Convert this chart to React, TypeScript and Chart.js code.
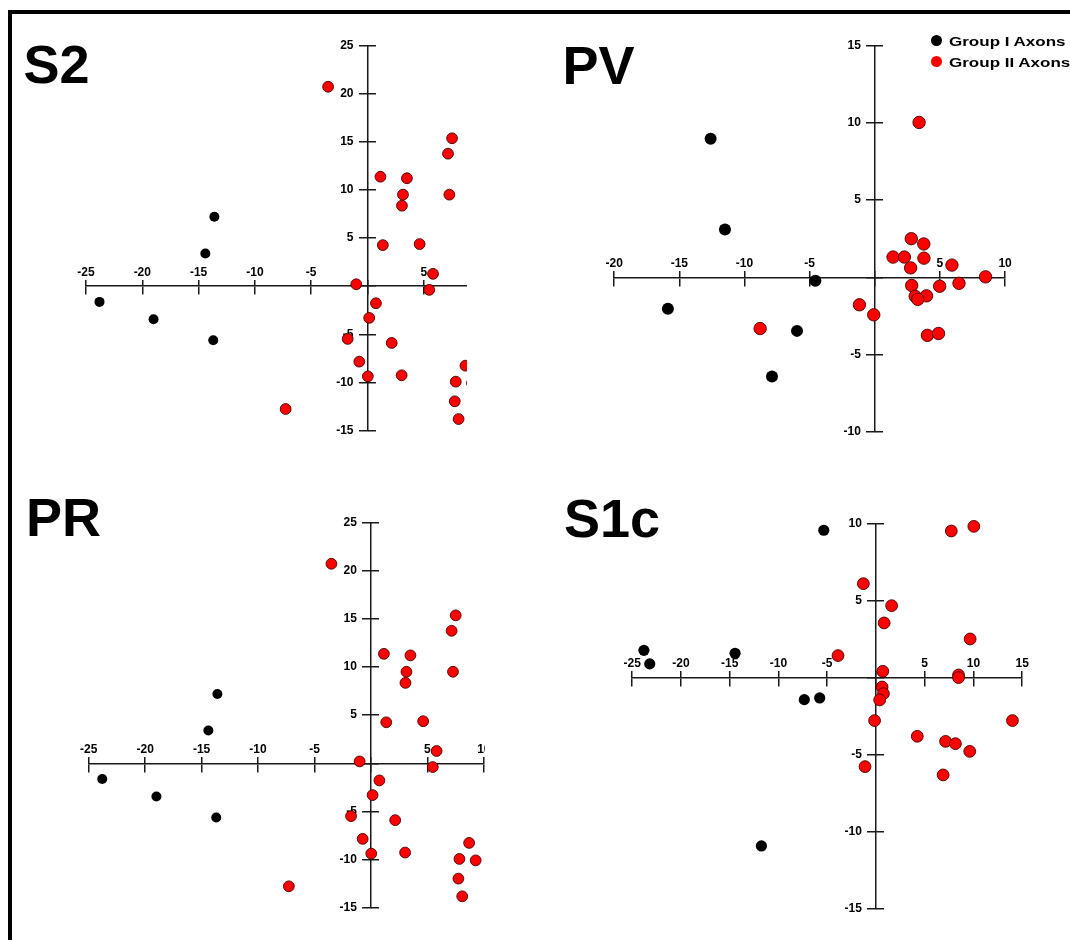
import React, { useEffect, useRef } from "react";
import { Chart, registerables } from "chart.js";

Chart.register(...registerables);

// ---------------- data ----------------
const SERIES_NAMES = ["Group I Axons", "Group II Axons"];

// S2 (the PR panel shows the same scores)
const S2_GROUP1_X = [-23.8, -19.0, -13.7, -14.4, -13.6];
const S2_GROUP1_Y = [-1.63, -3.43, -5.61, 3.4, 7.2];
const S2_GROUP2_X = [-3.5, -7.27, -1.0, 1.15, 3.5, 3.15, 3.06, 1.36, 4.63, 7.15, 7.51, 7.27, 5.82, 5.48, 0.75, 0.15, -1.76, 2.15, -0.73, 0.03, 3.03, 8.7, 7.84, 7.75, 8.09, 9.28];
const S2_GROUP2_Y = [20.7, -12.75, 0.2, 11.36, 11.2, 9.5, 8.35, 4.26, 4.37, 13.75, 15.35, 9.5, 1.28, -0.38, -1.77, -3.29, -5.47, -5.89, -7.83, -9.36, -9.25, -8.25, -9.91, -11.95, -13.79, -10.06];

const PR_GROUP1_X = S2_GROUP1_X;
const PR_GROUP1_Y = S2_GROUP1_Y;
const PR_GROUP2_X = S2_GROUP2_X;
const PR_GROUP2_Y = S2_GROUP2_Y;

// PV
const PV_GROUP1_X = [-12.6, -11.5, -4.56, -15.88, -5.97, -7.89];
const PV_GROUP1_Y = [8.98, 3.09, -0.23, -2.03, -3.47, -6.43];
const PV_GROUP2_X = [3.4, -8.8, -1.18, -0.08, 2.8, 3.76, 1.4, 2.27, 3.77, 2.75, 5.92, 8.5, 2.83, 4.98, 6.46, 3.1, 3.97, 3.3, 4.04, 4.89];
const PV_GROUP2_Y = [10.03, -3.32, -1.78, -2.43, 2.5, 2.16, 1.31, 1.31, 1.24, 0.61, 0.79, 0.03, -0.53, -0.58, -0.39, -1.23, -1.2, -1.43, -3.76, -3.64];

// S1c
const S1C_GROUP1_X = [-23.8, -23.2, -14.45, -5.35, -7.35, -5.77, -11.75];
const S1C_GROUP1_Y = [1.75, 0.87, 1.56, 9.55, -1.45, -1.34, -10.95];
const S1C_GROUP2_X = [7.73, 10.04, -1.29, 1.61, 0.84, 9.66, -3.89, 0.7, 8.47, 8.47, 0.63, 0.77, 0.38, -0.14, 14.0, 4.24, 7.14, 8.15, 9.62, -1.12, 6.89];
const S1C_GROUP2_Y = [9.5, 9.8, 6.08, 4.65, 3.53, 2.49, 1.41, 0.39, 0.15, -0.02, -0.63, -1.06, -1.47, -2.81, -2.81, -3.83, -4.16, -4.31, -4.81, -5.8, -6.34];

// axis ranges
const S2_X_RANGE = [-25, 10];
const S2_Y_RANGE = [-15, 25];
const PR_X_RANGE = [-25, 10];
const PR_Y_RANGE = [-15, 25];
const PV_X_RANGE = [-20, 10];
const PV_Y_RANGE = [-10, 15];
const S1C_X_RANGE = [-25, 15];
const S1C_Y_RANGE = [-15, 10];
const TICK_STEP = 5;

// ---------------- styling ----------------
const AXIS_COLOR = "#1a1a1a";
const SANS = "'Liberation Sans', Arial, Helvetica, sans-serif";
const TICK_FONT = { family: SANS, size: 12, weight: "bold" as const };
const RED = "#ff0000";
const RED_EDGE = "rgba(70,0,0,0.9)";
const Y_LABEL_GAP = 14; // px between y axis and the right edge of its labels

type Box = { left: number; top: number; width: number; height: number };
type Area = { left: number; top: number; right: number; bottom: number };

interface PanelSpec {
  canvas: Box;
  area: Area;
  xr: number[];
  yr: number[];
  g1x: number[];
  g1y: number[];
  g2x: number[];
  g2y: number[];
  r1: number;
  r2: number;
  bg?: string;
}

const toPoints = (xs: number[], ys: number[]) => xs.map((x, i) => ({ x, y: ys[i] }));
const hideZero = (v: number | string) => (Number(v) === 0 ? "" : String(v));

function Panel({ spec }: { spec: PanelSpec }) {
  const ref = useRef<HTMLCanvasElement>(null);
  useEffect(() => {
    const el = ref.current;
    if (!el) return;
    const { canvas, area } = spec;
    const padding = {
      left: area.left - canvas.left,
      top: area.top - canvas.top,
      right: canvas.left + canvas.width - area.right,
      bottom: canvas.top + canvas.height - area.bottom,
    };
    const pxPerX = (area.right - area.left) / (spec.xr[1] - spec.xr[0]);
    const gridBase = {
      drawOnChartArea: false,
      drawTicks: true,
      color: AXIS_COLOR,
      lineWidth: 1.5,
      tickWidth: 1.5,
    };
    const chart = new Chart(el, {
      type: "scatter",
      data: {
        datasets: [
          {
            label: SERIES_NAMES[0],
            data: toPoints(spec.g1x, spec.g1y),
            pointRadius: spec.r1,
            pointBackgroundColor: "#000",
            pointBorderColor: "#000",
            pointBorderWidth: 0,
            clip: false,
          },
          {
            label: SERIES_NAMES[1],
            data: toPoints(spec.g2x, spec.g2y),
            pointRadius: spec.r2,
            pointBackgroundColor: RED,
            pointBorderColor: RED_EDGE,
            pointBorderWidth: 1,
            clip: false,
          },
        ],
      },
      options: {
        responsive: false,
        animation: false,
        events: [],
        layout: { padding },
        plugins: {
          legend: { display: false },
          tooltip: { enabled: false },
          title: { display: false },
        },
        scales: {
          x: {
            type: "linear",
            min: spec.xr[0],
            max: spec.xr[1],
            position: { y: 0 },
            border: { display: true, color: AXIS_COLOR, width: 1.5 },
            grid: { ...gridBase, tickLength: 8 },
            ticks: {
              stepSize: TICK_STEP,
              autoSkip: false,
              maxRotation: 0,
              padding: -29,
              color: "#000",
              font: TICK_FONT,
              callback: hideZero,
            },
          },
          x2: {
            type: "linear",
            axis: "x",
            min: spec.xr[0],
            max: spec.xr[1],
            position: { y: 0 },
            border: { display: false },
            grid: { ...gridBase, tickLength: -6 },
            ticks: { stepSize: TICK_STEP, display: false },
          },
          y: {
            type: "linear",
            min: spec.yr[0],
            max: spec.yr[1],
            position: { x: 0 },
            border: { display: true, color: AXIS_COLOR, width: 1.5 },
            grid: { ...gridBase, tickLength: 8 },
            ticks: { stepSize: TICK_STEP, display: false },
          },
          y2: {
            type: "linear",
            axis: "y",
            min: spec.yr[0],
            max: spec.yr[1],
            position: { x: 0 },
            border: { display: false },
            grid: { ...gridBase, tickLength: -8 },
            ticks: { stepSize: TICK_STEP, display: false },
          },
          ylab: {
            type: "linear",
            axis: "y",
            min: spec.yr[0],
            max: spec.yr[1],
            position: { x: -Y_LABEL_GAP / pxPerX },
            border: { display: false },
            grid: { display: false },
            ticks: {
              stepSize: TICK_STEP,
              autoSkip: false,
              color: "#000",
              font: TICK_FONT,
              callback: hideZero,
            },
          },
        },
      } as any,
    });
    return () => chart.destroy();
  }, [spec]);
  const { canvas } = spec;
  return (
    <canvas
      ref={ref}
      width={canvas.width}
      height={canvas.height}
      style={{
        position: "absolute",
        left: canvas.left,
        top: canvas.top,
        width: canvas.width,
        height: canvas.height,
        background: spec.bg || "transparent",
      }}
    />
  );
}

const S2_SPEC: PanelSpec = {
  canvas: { left: 12, top: 14, width: 500, height: 440 },
  area: { left: 86, top: 45.3, right: 480.1, bottom: 430.7 },
  xr: S2_X_RANGE, yr: S2_Y_RANGE,
  g1x: S2_GROUP1_X, g1y: S2_GROUP1_Y, g2x: S2_GROUP2_X, g2y: S2_GROUP2_Y,
  r1: 5, r2: 5.4,
};
const PR_SPEC: PanelSpec = {
  canvas: { left: 12, top: 460, width: 500, height: 476 },
  area: { left: 88.7, top: 522.3, right: 483.8, bottom: 908 },
  xr: PR_X_RANGE, yr: PR_Y_RANGE,
  g1x: PR_GROUP1_X, g1y: PR_GROUP1_Y, g2x: PR_GROUP2_X, g2y: PR_GROUP2_Y,
  r1: 5, r2: 5.4,
};
const PV_SPEC: PanelSpec = {
  canvas: { left: 467, top: 14, width: 603, height: 440 },
  area: { left: 614.2, top: 45.7, right: 1005.1, bottom: 431.7 },
  xr: PV_X_RANGE, yr: PV_Y_RANGE,
  g1x: PV_GROUP1_X, g1y: PV_GROUP1_Y, g2x: PV_GROUP2_X, g2y: PV_GROUP2_Y,
  r1: 6, r2: 6.2, bg: "#fff",
};
const S1C_SPEC: PanelSpec = {
  canvas: { left: 485, top: 460, width: 585, height: 476 },
  area: { left: 632.2, top: 523.3, right: 1022.2, bottom: 908.3 },
  xr: S1C_X_RANGE, yr: S1C_Y_RANGE,
  g1x: S1C_GROUP1_X, g1y: S1C_GROUP1_Y, g2x: S1C_GROUP2_X, g2y: S1C_GROUP2_Y,
  r1: 5.6, r2: 5.9, bg: "#fff",
};

const titleStyle = (left: number, top: number): React.CSSProperties => ({
  position: "absolute",
  left,
  top,
  fontFamily: SANS,
  fontWeight: "bold",
  fontSize: 54,
  lineHeight: "54px",
  color: "#000",
  whiteSpace: "nowrap",
});

const dot = (left: number, top: number, color: string): React.CSSProperties => ({
  position: "absolute",
  left,
  top,
  width: 11,
  height: 11,
  borderRadius: "50%",
  background: color,
});

const legendText = (left: number, top: number): React.CSSProperties => ({
  position: "absolute",
  left,
  top,
  fontFamily: SANS,
  fontWeight: "bold",
  fontSize: 13.5,
  lineHeight: "13.5px",
  color: "#000",
  whiteSpace: "nowrap",
  transform: "scaleX(1.26)",
  transformOrigin: "0 0",
});

export default function App() {
  return (
    <div
      style={{
        position: "fixed",
        left: 0,
        top: 0,
        width: 1070,
        height: 940,
        overflow: "hidden",
        background: "#fff",
      }}
    >
      <Panel spec={S2_SPEC} />
      <Panel spec={PR_SPEC} />
      <Panel spec={PV_SPEC} />
      <Panel spec={S1C_SPEC} />

      <div style={titleStyle(23.5, 37)}>S2</div>
      <div style={titleStyle(562.6, 38)}>PV</div>
      <div style={titleStyle(26, 489.7)}>PR</div>
      <div style={titleStyle(564, 491)}>S1c</div>

      <div style={dot(930.5, 35.3, "#000")} />
      <div style={legendText(949.3, 34.5)}>{SERIES_NAMES[0]}</div>
      <div style={dot(930.5, 56.2, RED)} />
      <div style={legendText(949.3, 55.5)}>{SERIES_NAMES[1]}</div>

      <div
        style={{
          position: "absolute",
          left: 8,
          top: 10,
          width: 1100,
          height: 1000,
          borderTop: "4px solid #000",
          borderLeft: "4px solid #000",
          pointerEvents: "none",
        }}
      />
    </div>
  );
}
